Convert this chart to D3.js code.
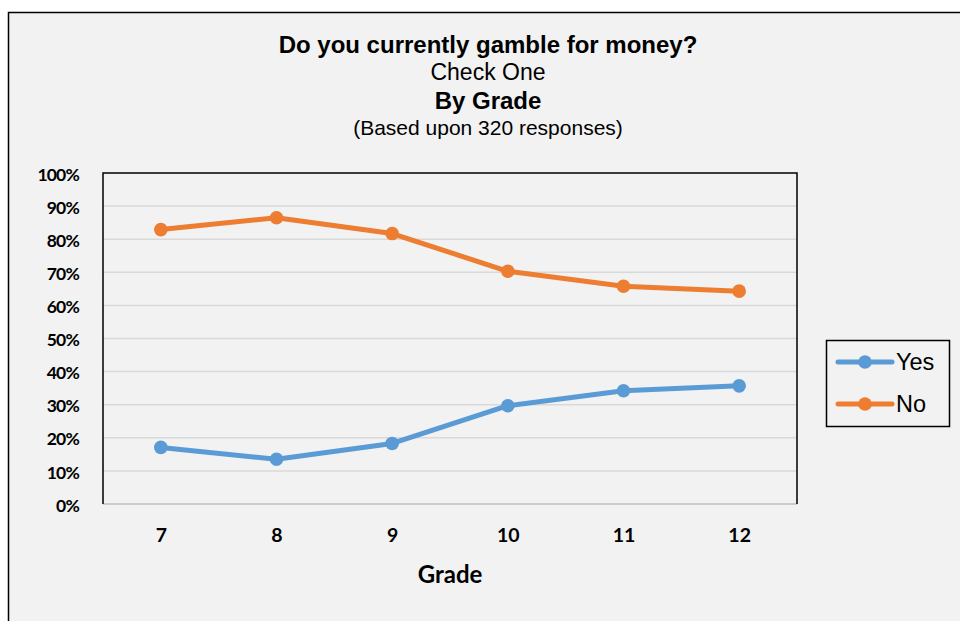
<!DOCTYPE html>
<html><head><meta charset="utf-8">
<script src="https://cdn.jsdelivr.net/npm/d3@7"></script>
<style>html,body{margin:0;padding:0;background:#fff;}svg{display:block;}</style>
</head><body>
<script>
const grades = ["7","8","9","10","11","12"];
const yesValues = [17.1, 13.5, 18.3, 29.7, 34.2, 35.7];
const noValues = [82.9, 86.5, 81.7, 70.3, 65.8, 64.3];
const yTicks = [0,10,20,30,40,50,60,70,80,90,100];
const seriesNames = ["Yes","No"];
const titleLines = ["Do you currently gamble for money?","Check One","By Grade","(Based upon 320 responses)"];

const W = 960, H = 621;
const svg = d3.select("body").append("svg").attr("width", W).attr("height", H);
svg.append("rect").attr("width", W).attr("height", H).attr("fill", "#fff");
svg.append("rect").attr("x", 8.5).attr("y", 12.5).attr("width", 980).attr("height", 640)
  .attr("fill", "#F2F2F2").attr("stroke", "#000").attr("stroke-width", 1.5);

const L = 103, R = 797, T = 173, B = 504;
const x = d3.scalePoint().domain(grades).range([L, R]).padding(0.5);
const y = d3.scaleLinear().domain([0,100]).range([B, T]);
const afont = "Lato, 'Open Sans', sans-serif";

// gridlines
svg.append("g").selectAll("line").data(yTicks.filter(d => d > 0 && d < 100)).join("line")
  .attr("x1", L).attr("x2", R).attr("y1", d => y(d)).attr("y2", d => y(d))
  .attr("stroke", "#D9D9D9").attr("stroke-width", 1.5);

// plot border
svg.append("line").attr("x1", L).attr("x2", R).attr("y1", B).attr("y2", B).attr("stroke", "#BFBFBF").attr("stroke-width", 1.5);
svg.append("path").attr("d", `M${L},${B}V${T}H${R}V${B}`).attr("fill", "none").attr("stroke", "#000").attr("stroke-width", 1.5);

// y axis
const yAxis = d3.axisLeft(y).tickValues(yTicks).tickFormat(d => d + "%").tickSize(0).tickPadding(24);
const gy = svg.append("g").attr("transform", `translate(${L},1.5)`).call(yAxis);
gy.select(".domain").remove();
gy.selectAll("text").attr("font-family", afont).attr("font-weight", "bold")
  .attr("font-size", 17.5).attr("letter-spacing", -0.8).attr("fill", "#000");

// x axis
const xAxis = d3.axisBottom(x).tickSize(0).tickPadding(24.5);
const gx = svg.append("g").attr("transform", `translate(0,${B})`).call(xAxis);
gx.select(".domain").remove();
gx.selectAll("text").attr("font-family", afont).attr("font-weight", "bold")
  .attr("font-size", 19.5).attr("fill", "#000");

svg.append("text").attr("x", 450).attr("y", 583).attr("text-anchor", "middle")
  .attr("font-family", afont).attr("font-weight", "bold").attr("font-size", 24)
  .text("Grade");

// titles
const tcx = 488;
const tfont = "'Liberation Sans', Arial, sans-serif";
svg.append("text").attr("x", tcx).attr("y", 53).attr("text-anchor", "middle").attr("font-family", tfont)
  .attr("font-weight", "bold").attr("font-size", 24).text(titleLines[0]);
svg.append("text").attr("x", tcx).attr("y", 80).attr("text-anchor", "middle").attr("font-family", tfont)
  .attr("font-size", 23).text(titleLines[1]);
svg.append("text").attr("x", tcx).attr("y", 109).attr("text-anchor", "middle").attr("font-family", tfont)
  .attr("font-weight", "bold").attr("font-size", 24).text(titleLines[2]);
svg.append("text").attr("x", tcx).attr("y", 135).attr("text-anchor", "middle").attr("font-family", tfont)
  .attr("font-size", 21).text(titleLines[3]);

// series
const colors = ["#5B9BD5", "#ED7D31"];
const seriesData = [yesValues, noValues];
const line = d3.line().x((d,i) => x(grades[i])).y(d => y(d));
seriesData.forEach((vals, si) => {
  svg.append("path").datum(vals).attr("d", line).attr("fill", "none")
    .attr("stroke", colors[si]).attr("stroke-width", 5).attr("stroke-linejoin", "round");
  svg.append("g").selectAll("circle").data(vals).join("circle")
    .attr("cx", (d,i) => x(grades[i])).attr("cy", d => y(d)).attr("r", 6.8).attr("fill", colors[si]);
});

// legend
svg.append("rect").attr("x", 826.5).attr("y", 340.5).attr("width", 123).attr("height", 86)
  .attr("fill", "#F2F2F2").attr("stroke", "#000").attr("stroke-width", 1.5);
seriesNames.forEach((n, i) => {
  const ly = 362 + i * 42;
  svg.append("line").attr("x1", 838).attr("x2", 892).attr("y1", ly).attr("y2", ly)
    .attr("stroke", colors[i]).attr("stroke-width", 5).attr("stroke-linecap", "round");
  svg.append("circle").attr("cx", 865).attr("cy", ly).attr("r", 6.8).attr("fill", colors[i]);
  svg.append("text").attr("x", 896).attr("y", ly + 8).attr("font-family", tfont)
    .attr("font-size", 23.5).text(n);
});
</script>
</body></html>
